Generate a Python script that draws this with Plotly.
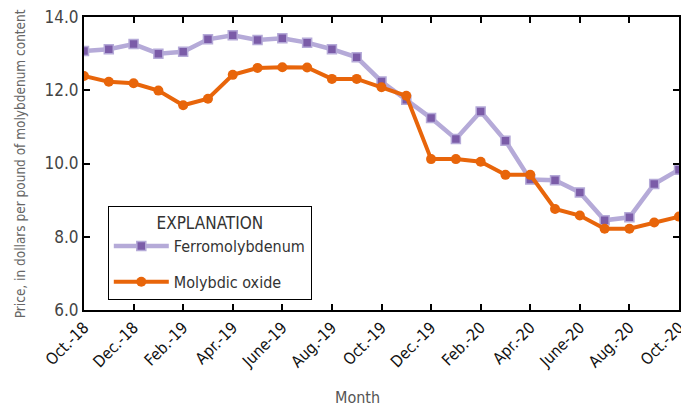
import plotly.graph_objects as go

months = ["Oct.-18", "Nov.-18", "Dec.-18", "Jan.-19", "Feb.-19", "Mar.-19", "Apr.-19",
          "May-19", "June-19", "July-19", "Aug.-19", "Sept.-19", "Oct.-19", "Nov.-19",
          "Dec.-19", "Jan.-20", "Feb.-20", "Mar.-20", "Apr.-20", "May-20", "June-20",
          "July-20", "Aug.-20", "Sept.-20", "Oct.-20"]
ferro = [13.07, 13.12, 13.26, 13.00, 13.05, 13.39, 13.50, 13.37, 13.42, 13.30, 13.12, 12.90,
         12.24, 11.74, 11.24, 10.67, 11.42, 10.62, 9.56, 9.54, 9.21, 8.45, 8.53, 9.44, 9.83]
oxide = [12.39, 12.23, 12.19, 11.99, 11.59, 11.77, 12.42, 12.61, 12.63, 12.62, 12.31, 12.31,
         12.08, 11.85, 10.12, 10.12, 10.05, 9.69, 9.69, 8.76, 8.58, 8.22, 8.22, 8.39, 8.55]
tick_months = months[::2]
y_ticks = [6, 8, 10, 12, 14]

FONT = "DejaVu Sans Condensed, Liberation Sans Narrow, Arial Narrow, sans-serif"

fig = go.Figure()
fig.add_trace(go.Scatter(
    x=months, y=ferro, name="Ferromolybdenum", mode="lines+markers",
    legendgroup="a",
    line=dict(color="#B5AAD8", width=4.5),
    marker=dict(symbol="square", size=9, color="#7B5CA8", line=dict(color="#B5AAD8", width=1.5)),
))
fig.add_trace(go.Scatter(
    x=months, y=oxide, name="Molybdic oxide", mode="lines+markers",
    legendgroup="b",
    line=dict(color="#E8650A", width=4),
    marker=dict(symbol="circle", size=10, color="#E8650A"),
))

fig.update_layout(
    width=681, height=407,
    margin=dict(l=76, r=10, t=9, b=105, autoexpand=False),
    paper_bgcolor="white", plot_bgcolor="white",
    font=dict(family=FONT, size=15, color="#222"),
    showlegend=True,
    legend=dict(
        x=0.04, y=0.034, xanchor="left", yanchor="bottom",
        bordercolor="black", borderwidth=1, bgcolor="white",
        title=dict(text="EXPLANATION", side="top center", font=dict(family=FONT, size=17, color="#333")),
        font=dict(family=FONT, size=16, color="#333"),
        tracegroupgap=12,
        itemwidth=55,
    ),
    annotations=[
        dict(text="Month", xref="paper", yref="paper", x=0.46, y=-0.297,
             xanchor="center", yanchor="middle", showarrow=False,
             font=dict(family=FONT, size=16, color="#555")),
        dict(text="Price, in dollars per pound of molybdenum content", xref="paper", yref="paper",
             x=-0.108, y=0.5, xanchor="center", yanchor="middle", textangle=-90, showarrow=False,
             font=dict(family=FONT, size=13.5, color="#666")),
    ],
)
fig.update_xaxes(
    type="category", range=[0, len(months) - 1], automargin=False,
    tickmode="array", tickvals=tick_months, ticktext=tick_months,
    tickangle=-45, tickfont=dict(family=FONT, size=16, color="#111"),
    ticks="inside", ticklen=6, tickcolor="black", tickwidth=1.5,
    showline=True, linecolor="black", linewidth=2, mirror="ticks",
    showgrid=False, zeroline=False, ticklabeloverflow="allow",
)
fig.update_yaxes(
    range=[6, 14], automargin=False, tickmode="array", tickvals=y_ticks,
    ticktext=[f"{v:.1f}" for v in y_ticks],
    tickfont=dict(family=FONT, size=17, color="#444"),
    ticks="inside", ticklen=6, tickcolor="black", tickwidth=1.5,
    showline=True, linecolor="black", linewidth=2, mirror="ticks",
    showgrid=False, zeroline=False, ticklabeloverflow="allow",
)

fig.write_html("out.html")
